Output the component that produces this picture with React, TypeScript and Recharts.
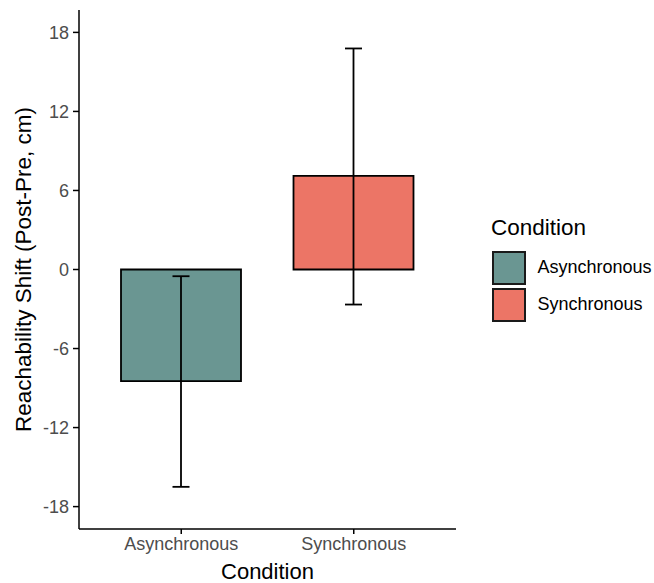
import { BarChart, Bar, XAxis, YAxis, ErrorBar, Cell } from 'recharts';

const conditions = ['Asynchronous', 'Synchronous'];
const means = [-8.48, 7.11];
const lower = [-16.5, -2.66];
const upper = [-0.51, 16.78];
const yTicks = [-18, -12, -6, 0, 6, 12, 18];
const colors = ['#6a9692', '#ec7566'];

const data = conditions.map((c, i) => ({
  condition: c,
  shift: means[i],
  err: [means[i] - lower[i], upper[i] - means[i]],
}));

const FONT = 'Liberation Sans, Arial, sans-serif';

export default function App() {
  return (
    <div style={{ position: 'absolute', left: 0, top: 0, width: 654, height: 583, background: '#fff', fontFamily: FONT }}>
      <BarChart
        width={654}
        height={583}
        data={data}
        margin={{ top: 10, right: 198, bottom: 0, left: 0 }}
        barCategoryGap={0}
      >
        <XAxis
          dataKey="condition"
          height={54}
          padding={{ left: 16, right: 16 }}
          stroke="#000"
          strokeWidth={1.5}
          tickSize={5}
          tickMargin={3}
          tick={{ fill: '#4d4d4d', fontSize: 18, fontFamily: FONT }}
          label={{ value: 'Condition', position: 'insideBottom', offset: 4, fill: '#000', fontSize: 22, fontFamily: FONT }}
        />
        <YAxis
          width={79}
          domain={[-19.7, 19.7]}
          ticks={yTicks}
          allowDataOverflow
          stroke="#000"
          strokeWidth={1.5}
          tickSize={6}
          tickMargin={4}
          tick={{ fill: '#4d4d4d', fontSize: 18, fontFamily: FONT }}
          label={{ value: 'Reachability Shift (Post-Pre, cm)', angle: -90, position: 'insideLeft', offset: 23.5, style: { textAnchor: 'middle' }, fill: '#000', fontSize: 22.5, fontFamily: FONT }}
        />
        <Bar dataKey="shift" barSize={120} stroke="#000" strokeWidth={1.8} isAnimationActive={false}>
          {data.map((d, i) => (
            <Cell key={d.condition} fill={colors[i]} />
          ))}
          <ErrorBar dataKey="err" width={8.5} stroke="#000" strokeWidth={1.8} direction="y" />
        </Bar>
      </BarChart>
      <div style={{ position: 'absolute', left: 491, top: 215, fontSize: 22.5, lineHeight: '26px', color: '#000' }}>Condition</div>
      {conditions.map((c, i) => (
        <div key={c} style={{ position: 'absolute', left: 491.5, top: 250.5 + i * 37, display: 'flex', alignItems: 'center', height: 34 }}>
          <span style={{ width: 34, height: 34, background: colors[i], border: '2px solid #1a1a1a', boxSizing: 'border-box', display: 'inline-block' }} />
          <span style={{ marginLeft: 12, fontSize: 18, color: '#000' }}>{c}</span>
        </div>
      ))}
    </div>
  );
}
